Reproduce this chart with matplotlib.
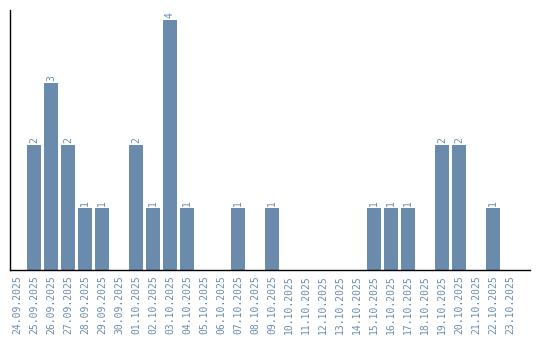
import matplotlib
matplotlib.use("Agg")
import matplotlib.pyplot as plt

dates = ["24.09.2025", "25.09.2025", "26.09.2025", "27.09.2025", "28.09.2025",
         "29.09.2025", "30.09.2025", "01.10.2025", "02.10.2025", "03.10.2025",
         "04.10.2025", "05.10.2025", "06.10.2025", "07.10.2025", "08.10.2025",
         "09.10.2025", "10.10.2025", "11.10.2025", "12.10.2025", "13.10.2025",
         "14.10.2025", "15.10.2025", "16.10.2025", "17.10.2025", "18.10.2025",
         "19.10.2025", "20.10.2025", "21.10.2025", "22.10.2025", "23.10.2025"]
counts = [0, 2, 3, 2, 1, 1, 0, 2, 1, 4, 1, 0, 0, 1, 0, 1, 0, 0, 0, 0, 0,
          1, 1, 1, 0, 2, 2, 0, 1, 0]

color = "#6a8bab"
font = "DejaVu Sans Mono"

fig = plt.figure(figsize=(5.4, 3.4), dpi=100)
ax = fig.add_axes([10/540, 70/340, 520/540, 260/340])
x = list(range(len(dates)))
bars = ax.bar(x, counts, width=0.82, color=color)
for xi, v in zip(x, counts):
    if v > 0:
        ax.text(xi, v + 0.03, str(v), rotation=90, ha="center", va="bottom",
                fontsize=7, color=color, family=font)
ax.set_xlim(-0.41, 30.18)
ax.set_ylim(0, 4.16)
ax.set_xticks(x)
ax.set_xticklabels(dates, rotation=90, fontsize=7, color=color, family=font)
ax.tick_params(axis="x", length=0, pad=3.5)
ax.set_yticks([])
ax.spines["top"].set_visible(False)
ax.spines["right"].set_visible(False)
ax.spines["left"].set_linewidth(1)
ax.spines["bottom"].set_linewidth(1)
fig.savefig("out.png", dpi=100)
